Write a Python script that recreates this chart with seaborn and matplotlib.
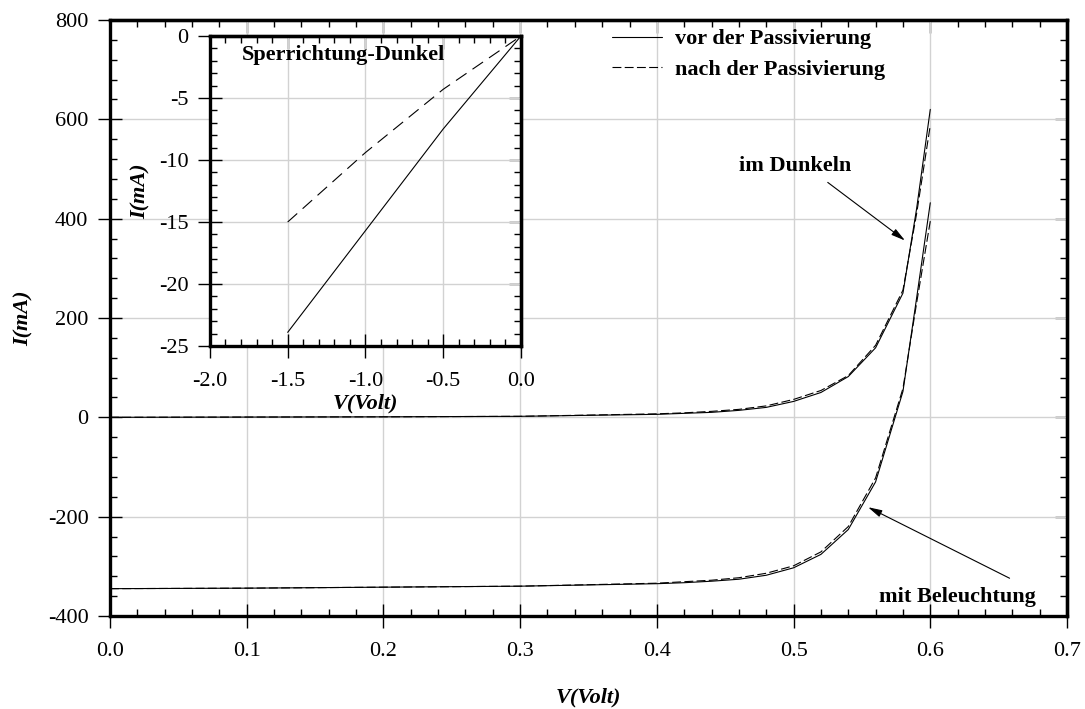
import pandas as pd
import matplotlib
matplotlib.use("Agg")
import matplotlib.pyplot as plt
from matplotlib.lines import Line2D
from matplotlib.ticker import MultipleLocator, FormatStrFormatter
import seaborn as sns

# Kennlinien (Hauptdiagramm)
V = [0.0, 0.1, 0.2, 0.3, 0.4, 0.42, 0.44, 0.46, 0.48, 0.50, 0.52, 0.54, 0.56, 0.58, 0.59, 0.60]
dunkel_vor = [0, 0.5, 1, 2, 6, 8, 10, 14, 20, 32, 50, 82, 140, 250, 420, 620]
dunkel_nach = [0, 0.5, 1, 2, 7, 9, 12, 16, 23, 36, 54, 84, 145, 256, 410, 588]
hell_vor = [-345, -344, -342, -340, -335, -333, -330, -326, -318, -303, -276, -226, -130, 52, 240, 432]
hell_nach = [-345, -344, -342, -340, -334, -331, -328, -323, -314, -299, -271, -220, -122, 58, 230, 395]

# Sperrichtung (Inset)
V_sperr = [-1.5, -1.0, -0.5, 0.0]
sperr_vor = [-23.9, -15.7, -7.5, 0.0]
sperr_nach = [-15.0, -9.4, -4.3, 0.0]

labels = ["vor der Passivierung", "nach der Passivierung"]

sns.set_theme(style="white", rc={"text.color": "black", "axes.labelcolor": "black",
                                 "xtick.color": "black", "ytick.color": "black"})
plt.rcParams["font.family"] = ["Liberation Serif", "DejaVu Serif"]
plt.rcParams["axes.unicode_minus"] = False

rows = []
for name, y_vor, y_nach in [("dunkel", dunkel_vor, dunkel_nach), ("hell", hell_vor, hell_nach)]:
    for v, a, b in zip(V, y_vor, y_nach):
        rows.append({"V": v, "I": a, "Zustand": labels[0], "Messung": name})
        rows.append({"V": v, "I": b, "Zustand": labels[1], "Messung": name})
df = pd.DataFrame(rows)

df_inset = pd.DataFrame({
    "V": V_sperr * 2,
    "I": sperr_vor + sperr_nach,
    "Zustand": [labels[0]] * len(V_sperr) + [labels[1]] * len(V_sperr),
})

grid_col = "#d2d2d2"
FS = 16


def style_axes(ax, xmaj, xmin, ymaj, ymin, xfmt, yfmt):
    for s in ax.spines.values():
        s.set_linewidth(2.4)
        s.set_color("black")
    ax.xaxis.set_major_locator(MultipleLocator(xmaj))
    ax.xaxis.set_minor_locator(MultipleLocator(xmin))
    ax.yaxis.set_major_locator(MultipleLocator(ymaj))
    ax.yaxis.set_minor_locator(MultipleLocator(ymin))
    ax.xaxis.set_major_formatter(FormatStrFormatter(xfmt))
    ax.yaxis.set_major_formatter(FormatStrFormatter(yfmt))
    ax.tick_params(which="major", direction="inout", length=17, width=1.0,
                   colors="black", labelsize=FS)
    ax.tick_params(axis="x", which="major", pad=10)
    ax.tick_params(axis="y", which="major", pad=7)
    ax.tick_params(which="minor", direction="in", length=5, width=1.0, colors="black")
    ax.tick_params(which="both", bottom=True, left=True, top=False, right=False)
    ax.grid(True, which="major", color=grid_col, lw=1.0)
    ax.set_axisbelow(True)
    # Ticks oben und rechts nur nach innen
    top = ax.secondary_xaxis("top")
    top.xaxis.set_major_locator(MultipleLocator(xmaj))
    top.xaxis.set_minor_locator(MultipleLocator(xmin))
    top.tick_params(which="major", direction="in", length=9, width=1.0, labeltop=False)
    top.tick_params(which="minor", direction="in", length=5, width=1.0)
    top.spines["top"].set_linewidth(2.4)
    right = ax.secondary_yaxis("right")
    right.yaxis.set_major_locator(MultipleLocator(ymaj))
    right.yaxis.set_minor_locator(MultipleLocator(ymin))
    right.tick_params(which="major", direction="in", length=9, width=1.0, labelright=False)
    right.tick_params(which="minor", direction="in", length=5, width=1.0)
    right.spines["right"].set_linewidth(2.4)


fig = plt.figure(figsize=(10.85, 7.09), dpi=100)
ax = fig.add_axes([0.1014, 0.1312, 0.8820, 0.8406])

sns.lineplot(data=df, x="V", y="I", style="Zustand", units="Messung", estimator=None,
             sort=False, color="black", lw=0.8, legend=False, ax=ax,
             dashes={labels[0]: "", labels[1]: (8, 3)})
ax.set_xlim(0, 0.7)
ax.set_ylim(-400, 800)
style_axes(ax, 0.1, 0.02, 200, 40, "%.1f", "%d")
ax.set_xlabel("V(Volt)", fontsize=FS, fontweight="bold", fontstyle="italic", labelpad=19)
ax.set_ylabel("I(mA)", fontsize=FS, fontweight="bold", fontstyle="italic", labelpad=10)

handles = [Line2D([], [], color="black", lw=0.8),
           Line2D([], [], color="black", lw=0.8, dashes=(8, 3))]
ax.legend(handles, labels, loc="upper left", bbox_to_anchor=(0.5245, 0.985),
          frameon=False, borderpad=0, borderaxespad=0, handlelength=2.25,
          handletextpad=0.6, labelspacing=0.45,
          prop={"family": "Liberation Serif", "weight": "bold", "size": FS})

arrow = dict(arrowstyle="-|>,head_length=0.7,head_width=0.18", color="black", lw=0.8,
             shrinkA=0, shrinkB=0)
ax.annotate("", xy=(0.5815, 356), xytext=(0.525, 473), arrowprops=arrow)
ax.text(0.501, 507, "im Dunkeln", ha="center", va="center", fontsize=FS, fontweight="bold")
ax.annotate("", xy=(0.5545, -181), xytext=(0.658, -324), arrowprops=arrow)
ax.text(0.6196, -362, "mit Beleuchtung", ha="center", va="center", fontsize=FS,
        fontweight="bold")

# Inset: Sperrichtung im Dunkeln
ins = fig.add_axes([0.1935, 0.5120, 0.2866, 0.4372])
ins.set_facecolor("white")
sns.lineplot(data=df_inset, x="V", y="I", style="Zustand", estimator=None, sort=False,
             color="black", lw=0.8, legend=False, ax=ins,
             dashes={labels[0]: "", labels[1]: (11.5, 6.5)})
ins.set_xlim(-2.0, 0.0)
ins.set_ylim(-25, 0)
style_axes(ins, 0.5, 0.1, 5, 1, "%.1f", "%d")
ins.set_xlabel("V(Volt)", fontsize=FS, fontweight="bold", fontstyle="italic", labelpad=2)
ins.set_ylabel("I(mA)", fontsize=FS, fontweight="bold", fontstyle="italic", labelpad=6)
ins.text(0.103, 0.939, "Sperrichtung-Dunkel", transform=ins.transAxes, ha="left",
         va="center", fontsize=FS, fontweight="bold")

fig.savefig("out.png", dpi=100)
